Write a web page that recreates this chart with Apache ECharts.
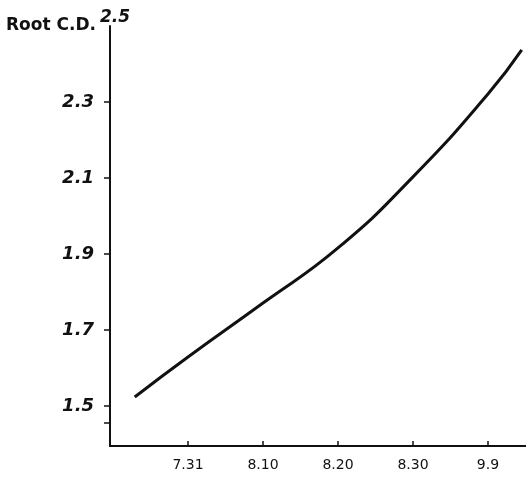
<!DOCTYPE html>
<html>
<head>
<meta charset="utf-8">
<script src="https://cdn.jsdelivr.net/npm/echarts@6/dist/echarts.min.js"></script>
<style>html,body{margin:0;padding:0;background:#fff}#c{width:526px;height:485px}</style>
</head>
<body>
<div id="c"></div>
<script>
// days after July 31 (hand-drawn curve)
var days = [-7.1, 0, 10, 20, 30, 40, 44.5];
var rootCD = [1.524, 1.629, 1.771, 1.916, 2.103, 2.321, 2.437];
var xTickDays = [0, 10, 20, 30, 40];
var xTickLabels = ['7.31', '8.10', '8.20', '8.30', '9.9'];
var yTickValues = [1.5, 1.7, 1.9, 2.1, 2.3];
var yTickLabels = ['1.5', '1.7', '1.9', '2.1', '2.3'];
var yTopValue = 2.5;
var yTopLabel = '2.5';
var yBreakTick = 1.455;

var chart = echarts.init(document.getElementById('c'));
var pts = days.map(function (d, i) { return [d, rootCD[i]]; });
var ink = '#111';
var hand = { fontFamily: 'DejaVu Sans', fontStyle: 'italic', fontWeight: 'bold', color: ink };
chart.setOption({
  animation: false,
  backgroundColor: '#fff',
  grid: { left: 110, right: 0, top: 26, bottom: 39 },
  xAxis: {
    type: 'value', min: -10.4, max: 45.07,
    axisLine: { onZero: false, lineStyle: { color: ink, width: 2 } },
    axisTick: { show: true, length: 5, inside: true, customValues: xTickDays, lineStyle: { color: ink, width: 1.5 } },
    axisLabel: {
      customValues: xTickDays, margin: 12,
      formatter: function (v) { var i = xTickDays.indexOf(v); return i >= 0 ? xTickLabels[i] : ''; },
      fontFamily: 'DejaVu Sans', fontSize: 14, color: ink
    },
    splitLine: { show: false }
  },
  yAxis: [{
    type: 'value', min: 1.395, max: 2.5,
    name: 'Root C.D.', nameLocation: 'end', nameGap: 0,
    nameTextStyle: { align: 'right', verticalAlign: 'middle', padding: [0, 14, 0, 0], fontFamily: 'DejaVu Sans', fontSize: 17, fontWeight: 'bold', color: ink },
    axisLine: { show: true, onZero: false, lineStyle: { color: ink, width: 2 } },
    axisTick: { show: true, length: 6, customValues: [yBreakTick].concat(yTickValues), lineStyle: { color: ink, width: 1.5 } },
    axisLabel: Object.assign({
      customValues: yTickValues, margin: 16, fontSize: 18,
      formatter: function (v) { var i = yTickValues.indexOf(v); return i >= 0 ? yTickLabels[i] : ''; }
    }, hand),
    splitLine: { show: false }
  }, {
    type: 'value', min: 1.395, max: 2.5, position: 'left',
    axisLine: { show: false, onZero: false }, axisTick: { show: false }, splitLine: { show: false },
    axisLabel: Object.assign({
      customValues: [yTopValue], inside: true, margin: -10, fontSize: 17, verticalAlign: 'bottom',
      formatter: function () { return yTopLabel; }
    }, hand)
  }],
  series: [{
    type: 'line', data: pts, smooth: true, showSymbol: false,
    lineStyle: { color: ink, width: 3 }
  }]
});
</script>
</body>
</html>
